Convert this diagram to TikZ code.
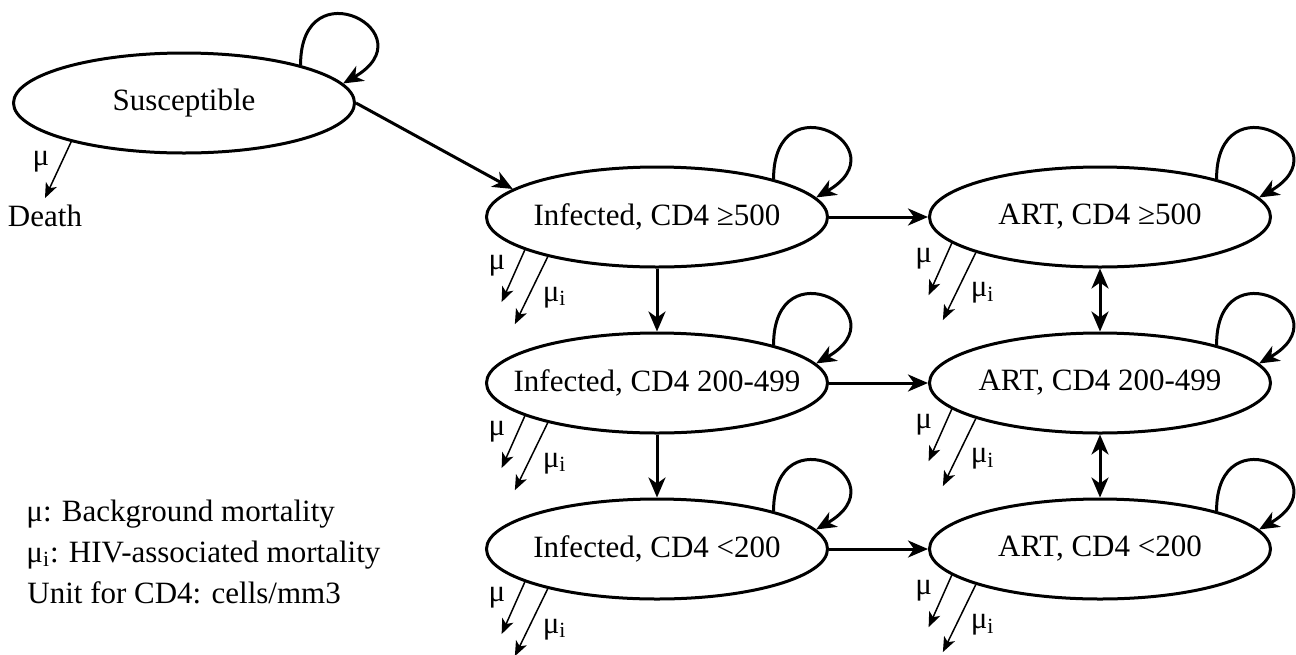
\documentclass[tikz,border=0pt]{standalone}
\usepackage{fontspec}
\setmainfont{Liberation Serif}
\usetikzlibrary{shapes.geometric,arrows.meta}
\newcommand{\nowidth}[1]{\makebox[0pt]{#1}}
\begin{document}
\begin{tikzpicture}[x=0.5pt,y=0.5pt,
  state/.style={ellipse,draw,line width=1.5pt,minimum width=170.5pt,minimum height=50pt,inner sep=0pt},
  bighead/.tip={Stealth[length=10pt,width=8.5pt,inset=3pt]},
  flow/.style={line width=1.5pt,-bighead},
  biflow/.style={line width=1.5pt,bighead-bighead},
  mort/.style={line width=0.75pt,-{Stealth[length=7.5pt,width=6pt,inset=2pt]}},
  lbl/.style={inner sep=0pt},
  font=\fontsize{15.5pt}{18pt}\selectfont]
\useasboundingbox (0,0) rectangle (1296,-654);
% states
\node[state] (sus)  at (184,-103) {\nowidth{Susceptible}};
\node[state] (inf1) at (657,-217) {\nowidth{Infected, CD4 ≥500}};
\node[state] (inf2) at (657,-383) {\nowidth{Infected, CD4 200-499}};
\node[state] (inf3) at (657,-549) {\nowidth{Infected, CD4 <200}};
\node[state] (art1) at (1100,-217) {\nowidth{ART, CD4 ≥500}};
\node[state] (art2) at (1100,-383) {\nowidth{ART, CD4 200-499}};
\node[state] (art3) at (1100,-549) {\nowidth{ART, CD4 <200}};
\node[anchor=base,inner sep=3pt] (death) at (45,-226) {Death};
% legend
\node[anchor=base west,lbl] (leg1) at (26,-521) {μ: Background mortality};
\node[anchor=base west,lbl] (leg2) at (26,-562) {μ\textsubscript{i}: HIV-associated mortality};
\node[anchor=base west,lbl] (leg3) at (27,-603) {Unit for CD4: cells/mm3};
% self loops
\foreach \n in {sus,inf1,inf2,inf3,art1,art2,art3}
  \draw[flow] (\n.18) to[out=90,in=30,distance=50pt] (\n.7);
% transitions
\draw[flow] (sus.east) -- (inf1.169);
\draw[flow] (inf1.east) -- (art1.west);
\draw[flow] (inf2.east) -- (art2.west);
\draw[flow] (inf3.east) -- (art3.west);
\draw[flow] (inf1.south) -- (inf2.north);
\draw[flow] (inf2.south) -- (inf3.north);
\draw[biflow] (art1.south) -- (art2.north);
\draw[biflow] (art2.south) -- (art3.north);
% mortality
\draw[mort] (sus.199) -- node[pos=0.35,left=6pt,lbl]{μ} (death.north);
\foreach \n/\a/\b in {inf1/194/200,inf2/194/200,inf3/194/200,art1/190/196,art2/190/196,art3/190/196}{
  \path (\n.\a) ++(246:57) coordinate (\n m1);
  \path (\n.\b) ++(244:75) coordinate (\n m2);
  \draw[mort] (\n.\a) -- node[pos=0.3,left=6pt,lbl]{μ} (\n m1);
  \draw[mort] (\n.\b) -- node[pos=0.6,right=7pt,lbl]{μ\textsubscript{i}} (\n m2);
}
\end{tikzpicture}
\end{document}
